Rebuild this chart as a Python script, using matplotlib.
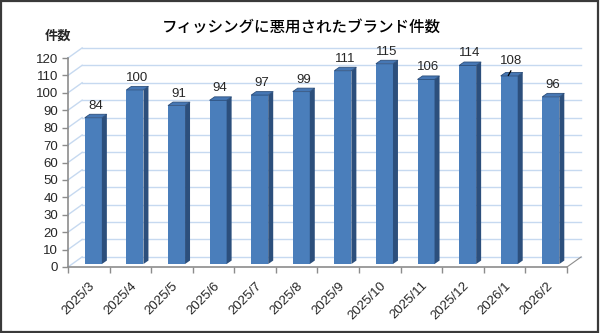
import matplotlib
matplotlib.use("Agg")
import matplotlib.pyplot as plt
from matplotlib.patches import Polygon, Rectangle

plt.rcParams['font.family'] = ['Liberation Sans', 'Noto Sans CJK JP', 'DejaVu Sans']

# data
months = ['2025/3', '2025/4', '2025/5', '2025/6', '2025/7', '2025/8',
          '2025/9', '2025/10', '2025/11', '2025/12', '2026/1', '2026/2']
counts = [84, 100, 91, 94, 97, 99, 111, 115, 106, 114, 108, 96]
yticks = list(range(0, 130, 10))

title = 'フィッシングに悪用されたブランド件数'
ylabel = '件数'

# colours
c_front = '#4a7ebb'
c_side = '#2c4f7c'
c_top = '#4677b4'
c_grid = '#c6d9f0'
c_axis = '#8c8c8c'
c_text = '#262626'

fig = plt.figure(figsize=(6, 3.33), dpi=100)
ax = fig.add_axes([0.1133, 0.1982, 0.8317, 0.6276])
ax.set_xlim(-0.5, len(months) - 0.5)
ax.set_ylim(0, 120)

# wall depth (data units) - offset of back wall from the front axes
wx, wy = 0.34, 5.8
x0, x1 = -0.5, len(months) - 0.5

# back wall gridlines + left wall diagonals
for t in yticks:
    ax.plot([x0 + wx, x1 + wx], [t + wy, t + wy], color=c_grid, lw=1,
            clip_on=False, zorder=0)
    ax.plot([x0, x0 + wx], [t, t + wy], color=c_grid, lw=1,
            clip_on=False, zorder=0)
# floor right edge
ax.plot([x1, x1 + wx], [0, wy], color=c_axis, lw=0.8, clip_on=False, zorder=0)

# bars (fake 3d)
bw = 0.41          # front face width
fx, fy = 0.11, 1.7  # bar front shift into the floor
sx, sy = 0.12, 2.0  # bar depth
for i, v in enumerate(counts):
    left = i - bw / 2 + fx
    ax.bar(left, v, width=bw, bottom=fy, align='edge', color=c_front,
           edgecolor='none', zorder=3)
    right = left + bw
    side = Polygon([(right, fy), (right + sx, fy + sy), (right + sx, v + fy + sy),
                    (right, v + fy)], closed=True, facecolor=c_side,
                   edgecolor='none', zorder=3, clip_on=False)
    ax.add_patch(side)
    top = Polygon([(left, v + fy), (right, v + fy), (right + sx, v + fy + sy),
                   (left + sx, v + fy + sy)], closed=True, facecolor=c_top,
                  edgecolor=c_side, lw=0.6, zorder=4, clip_on=False)
    ax.add_patch(top)
    ly = v + 8.6
    if i == 10:
        # label nudged, with a leader line
        ly = v + 10.2
        ax.plot([i + 0.15, i + 0.09], [v + 4.6, v + 2.0], color='black',
                lw=0.9, zorder=5, clip_on=False)
    ax.text(i + fx + 0.05, ly, str(v), ha='center', va='center',
            fontsize=9.5, color=c_text, zorder=5, clip_on=False)

# axes styling
for s in ['top', 'right']:
    ax.spines[s].set_visible(False)
for s in ['left', 'bottom']:
    ax.spines[s].set_color(c_axis)
    ax.spines[s].set_linewidth(1.2)

ax.set_yticks(yticks)
ax.tick_params(axis='y', length=4, width=1, color=c_axis, pad=3,
               labelsize=9.5, labelcolor=c_text)

ax.set_xticks([i - 0.5 for i in range(len(months) + 1)])
ax.set_xticklabels([])
ax.tick_params(axis='x', which='major', length=4, width=1, color=c_axis)
ax.set_xticks(range(len(months)), minor=True)
ax.set_xticklabels(months, minor=True, rotation=45, ha='right', va='top',
                   rotation_mode='anchor', fontsize=9.5, color=c_text)
ax.tick_params(axis='x', which='minor', length=0, pad=9)
ax.patch.set_alpha(0)

fig.text(0.502, 0.918, title, ha='center', va='center', fontsize=11.2,
         fontweight='medium', family=['Noto Sans CJK JP'], color='black')
fig.text(0.0975, 0.893, ylabel, ha='center', va='center', fontsize=9.5,
         fontweight='bold', family=['Noto Sans CJK JP'], color=c_text)

# outer frame
fig.patches.append(Rectangle((0.002, 0.003), 0.995, 0.994, transform=fig.transFigure,
                             fill=False, edgecolor='#3a3a3a', lw=1.6))

fig.savefig('out.png', dpi=100)
